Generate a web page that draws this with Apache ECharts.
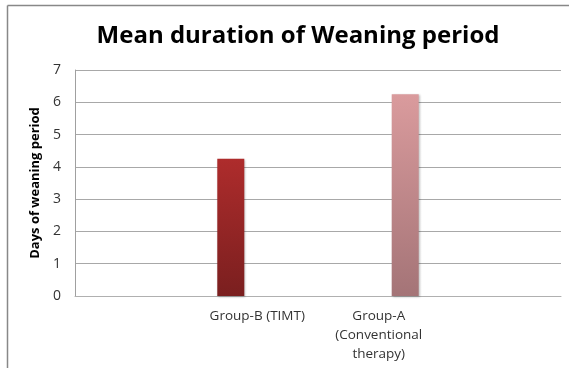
<!DOCTYPE html>
<html><head><meta charset="utf-8">
<script src="https://cdn.jsdelivr.net/npm/echarts@6/dist/echarts.min.js"></script>
<style>html,body{margin:0;padding:0;background:#fff}#c{width:569px;height:368px}</style>
</head><body><div id="c"></div>
<script>
const categories = ['', 'Group-B (TIMT)', 'Group-A\n(Conventional\ntherapy)', ''];
const groupBValues = [null, 4.25, null, null];
const groupAValues = [null, null, 6.25, null];
const yTicks = [0, 1, 2, 3, 4, 5, 6, 7];

const chart = echarts.init(document.getElementById('c'), null, {renderer: 'canvas'});
const grad = (a, b) => new echarts.graphic.LinearGradient(0, 0, 0, 1, [{offset: 0, color: a}, {offset: 1, color: b}]);
chart.setOption({
  animation: false,
  backgroundColor: '#fff',
  title: {
    text: 'Mean duration of Weaning period',
    left: 293, top: 19, textAlign: 'center',
    textStyle: {fontFamily: 'Open Sans', fontWeight: 'bold', fontSize: 24, color: '#000'}
  },
  graphic: [
    {type: 'line', shape: {x1: 7.5, y1: 5.5, x2: 569, y2: 5.5}, style: {stroke: '#888', lineWidth: 1.5}},
    {type: 'line', shape: {x1: 7.5, y1: 5.5, x2: 7.5, y2: 368}, style: {stroke: '#888', lineWidth: 1.5}}
  ],
  grid: {left: 75, right: 8, top: 70, bottom: 72, containLabel: false},
  xAxis: {
    type: 'category', data: categories,
    axisLine: {show: true, lineStyle: {color: '#b0b0b0', width: 1}},
    axisTick: {show: false},
    axisLabel: {interval: 0, color: '#333', fontFamily: 'Open Sans', fontSize: 13.5, lineHeight: 19, margin: 11}
  },
  yAxis: {
    type: 'value', min: 0, max: 7, interval: 1,
    name: 'Days of weaning period', nameLocation: 'middle', nameGap: 31, nameRotate: 90,
    nameTextStyle: {fontFamily: 'Open Sans', fontWeight: 'bold', fontSize: 13, color: '#000'},
    axisLine: {show: true, lineStyle: {color: '#a0a0a0', width: 1}},
    axisTick: {show: false},
    axisLabel: {color: '#333', fontFamily: 'Open Sans', fontSize: 14, margin: 14,
      formatter: v => yTicks.includes(v) ? String(v) : ''},
    splitLine: {show: true, lineStyle: {color: '#a8a8a8', width: 1}}
  },
  series: [
    {type: 'bar', data: groupBValues, barWidth: 27, barGap: '96%',
      itemStyle: {color: grad('#ae2c2c', '#7a1f1f'), shadowColor: 'rgba(0,0,0,0.25)', shadowBlur: 2, shadowOffsetX: 1, shadowOffsetY: 1}},
    {type: 'bar', data: groupAValues, barWidth: 27, barGap: '96%',
      itemStyle: {color: grad('#da9b9d', '#a47477'), shadowColor: 'rgba(0,0,0,0.25)', shadowBlur: 2, shadowOffsetX: 1, shadowOffsetY: 1}}
  ]
});
</script></body></html>
